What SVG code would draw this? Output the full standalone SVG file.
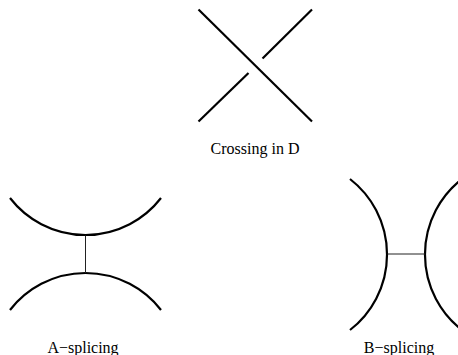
<svg xmlns="http://www.w3.org/2000/svg" width="458" height="355" viewBox="0 0 458 355">
<style>
.strand{fill:none;stroke:#000;stroke-width:2.2;stroke-linecap:butt}
.link{fill:none;stroke:#222;stroke-width:1}
.lbl{font-family:"Liberation Serif","Times New Roman",serif;font-size:16px;fill:#000;text-anchor:middle}
</style>
<rect width="458" height="355" fill="#fff"/>
<g id="crossing">
<line class="strand" x1="198.5" y1="9.5" x2="312" y2="121.5"/>
<line class="strand" x1="312" y1="9.5" x2="262.5" y2="58.5"/>
<line class="strand" x1="248.5" y1="73" x2="198.5" y2="121.5"/>
<text class="lbl" x="255" y="154">Crossing in D</text>
</g>
<g id="a-splicing">
<path class="strand" d="M10,198 A95.5,95.5 0 0 0 161,198"/>
<path class="strand" d="M10,310 A95.5,95.5 0 0 1 161,310"/>
<text class="lbl" x="83" y="353">A−splicing</text>
</g>
<g id="b-splicing">
<path class="strand" d="M350,179 A95.5,95.5 0 0 1 350,330"/>
<path class="strand" d="M462,179 A95.5,95.5 0 0 0 462,330"/>
<text class="lbl" x="399" y="353">B−splicing</text>
</g>
<g id="connectors">
<line class="link" x1="85.5" y1="235.5" x2="85.5" y2="273"/>
<line class="link" x1="387.5" y1="254" x2="425" y2="254"/>
</g>
</svg>
